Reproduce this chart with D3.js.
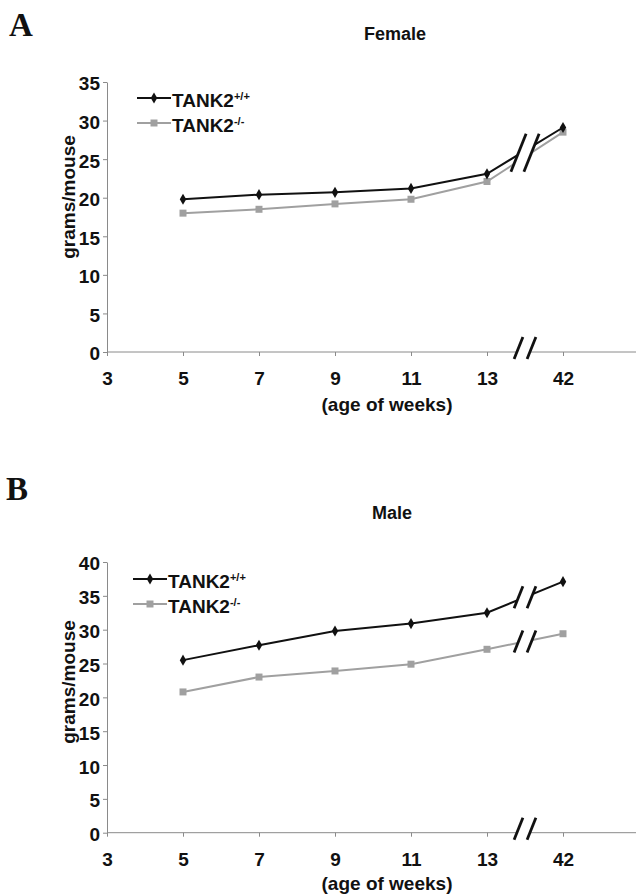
<!DOCTYPE html>
<html>
<head>
<meta charset="utf-8">
<script src="https://cdn.jsdelivr.net/npm/d3@7"></script>
<style>
  body { margin: 0; background: #fff; }
  text { font-family: "Liberation Sans", Arial, sans-serif; font-weight: bold; fill: #111; }
</style>
</head>
<body>
<div id="chart"></div>
<script>
// categories on the x axis (weeks of age); 42 sits after an axis break
var weeks = [3, 5, 7, 9, 11, 13, 42];
var dataWeeks = [5, 7, 9, 11, 13, 42];

// body weight, grams per mouse
var femaleWT = [19.8, 20.4, 20.7, 21.2, 23.1, 29.1];
var femaleKO = [18.0, 18.5, 19.2, 19.8, 22.1, 28.5];
var maleWT = [25.5, 27.7, 29.8, 30.9, 32.5, 37.1];
var maleKO = [20.8, 23.0, 23.9, 24.9, 27.1, 29.4];

var femaleTicks = [0, 5, 10, 15, 20, 25, 30, 35];
var maleTicks = [0, 5, 10, 15, 20, 25, 30, 35, 40];

var legendNames = ["+/+", "-/-"];

var W = 636, H = 895;
var axisColor = "#8a8a8a";
var wtColor = "#111", koColor = "#a0a0a0";
var fs = "19px";

var svg = d3.select("#chart").append("svg")
    .attr("width", W)
    .attr("height", H);

function drawSlashes(g, cx, cy, half) {
  // two slanted break marks with white gap between them
  var dx = half * 0.4;
  g.append("path")
    .attr("d", "M" + (cx - 6.5 + dx) + "," + (cy - half) + "L" + (cx + 6.5 + dx) + "," + (cy - half) +
               "L" + (cx + 6.5 - dx) + "," + (cy + half) + "L" + (cx - 6.5 - dx) + "," + (cy + half) + "Z")
    .attr("fill", "#fff");
  [-6.5, 6.5].forEach(function(o) {
    g.append("line")
      .attr("x1", cx + o + dx).attr("y1", cy - half)
      .attr("x2", cx + o - dx).attr("y2", cy + half)
      .attr("stroke", "#111")
      .attr("stroke-width", 2.8);
  });
}

function panel(opt) {
  var g = svg.append("g");

  var x = d3.scalePoint().domain(weeks).range([107, 563]);
  var y = d3.scaleLinear().domain([0, opt.ymax]).range([opt.y0, opt.ytop]);

  // panel letter and title
  g.append("text")
    .attr("x", opt.letterX).attr("y", opt.letterY)
    .style("font-family", "'Liberation Serif', 'Times New Roman', serif")
    .style("font-size", "33px")
    .text(opt.letter);
  g.append("text")
    .attr("x", opt.titleX).attr("y", opt.titleY)
    .attr("text-anchor", "middle")
    .style("font-size", "18px")
    .text(opt.title);

  // y axis
  var yAxis = g.append("g")
    .attr("transform", "translate(107,0)")
    .call(d3.axisLeft(y).tickValues(opt.ticks).tickSize(4).tickSizeOuter(0).tickPadding(3));
  yAxis.selectAll("text").style("font-size", fs).attr("dy", "0.42em")
    .style("font-family", "'Liberation Sans', Arial, sans-serif").style("font-weight", "bold").attr("fill", "#111");

  // x axis
  var xAxis = g.append("g")
    .attr("transform", "translate(0," + y(0) + ")")
    .call(d3.axisBottom(x).tickSize(4).tickPadding(16));
  xAxis.selectAll("text").style("font-size", fs)
    .style("font-family", "'Liberation Sans', Arial, sans-serif").style("font-weight", "bold").attr("fill", "#111");
  xAxis.select(".domain").remove();
  xAxis.append("line")
    .attr("x1", x(3)).attr("x2", W)
    .attr("stroke", axisColor);

  g.selectAll(".domain, .tick line").attr("stroke", axisColor);

  // axis titles
  g.append("text")
    .attr("transform", "translate(75," + opt.ylabY + ") rotate(-90)")
    .attr("text-anchor", "middle")
    .style("font-size", fs)
    .text("grams/mouse");
  g.append("text")
    .attr("x", 387).attr("y", opt.xlabY)
    .attr("text-anchor", "middle")
    .style("font-size", fs)
    .text("(age of weeks)");

  var line = d3.line()
    .x(function(d) { return x(d.w); })
    .y(function(d) { return y(d.v); });

  var series = [
    {vals: opt.ko, color: koColor, sym: d3.symbolSquare, size: 49},
    {vals: opt.wt, color: wtColor, sym: d3.symbolDiamond, size: 36}
  ];

  series.forEach(function(s) {
    var pts = dataWeeks.map(function(w, i) { return {w: w, v: s.vals[i]}; });
    g.append("path")
      .datum(pts)
      .attr("d", line)
      .attr("fill", "none")
      .attr("stroke", s.color)
      .attr("stroke-width", 2);
    g.selectAll(null)
      .data(pts)
      .enter()
      .append("path")
      .attr("transform", function(d) { return "translate(" + x(d.w) + "," + y(d.v) + ")"; })
      .attr("d", d3.symbol().type(s.sym).size(s.size))
      .attr("fill", s.color);
  });

  // axis breaks between 13 and 42
  var bx = (x(13) + x(42)) / 2;
  if (opt.joinBreak) {
    var mids = [opt.wt, opt.ko].map(function(v) { return y((v[4] + v[5]) / 2); });
    drawSlashes(g, bx, (mids[0] + mids[1]) / 2 - 1, 19);
  } else {
    [opt.wt, opt.ko].forEach(function(v) {
      drawSlashes(g, bx, y((v[4] + v[5]) / 2), 11);
    });
  }
  drawSlashes(g, bx, y(0) - 4, 11);

  // legend
  var lg = g.append("g");
  [opt.wt, opt.ko].forEach(function(v, i) {
    var s = series[1 - i];
    var ly = opt.legY + i * 25;
    lg.append("line")
      .attr("x1", opt.legX).attr("x2", opt.legX + 34)
      .attr("y1", ly).attr("y2", ly)
      .attr("stroke", s.color).attr("stroke-width", 2);
    lg.append("path")
      .attr("transform", "translate(" + (opt.legX + 17) + "," + ly + ")")
      .attr("d", d3.symbol().type(s.sym).size(s.size))
      .attr("fill", s.color);
    var t = lg.append("text")
      .attr("x", opt.legX + 35).attr("y", ly + 9)
      .style("font-size", "19px");
    t.append("tspan").text("TANK2");
    t.append("tspan").attr("dy", -7).style("font-size", "11px").text(legendNames[i]);
  });
}

panel({
  letter: "A", letterX: 9, letterY: 36,
  title: "Female", titleX: 395, titleY: 40,
  ymax: 35, y0: 352, ytop: 82, ticks: femaleTicks,
  wt: femaleWT, ko: femaleKO, joinBreak: true,
  ylabY: 197, xlabY: 411,
  legX: 137, legY: 98
});

panel({
  letter: "B", letterX: 6, letterY: 500,
  title: "Male", titleX: 392, titleY: 519,
  ymax: 40, y0: 832.7, ytop: 562, ticks: maleTicks,
  wt: maleWT, ko: maleKO, joinBreak: false,
  ylabY: 682, xlabY: 890,
  legX: 133, legY: 579
});
</script>
</body>
</html>
